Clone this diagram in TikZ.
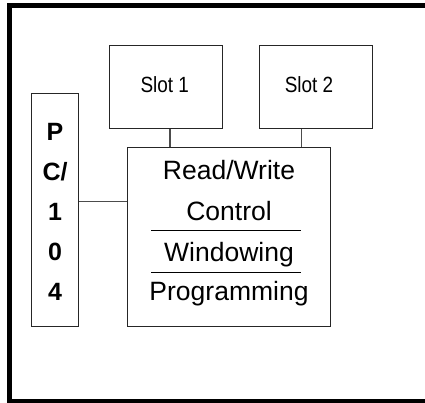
\documentclass[tikz,border=0pt]{standalone}
\usepackage{graphicx}
\usepackage{fontspec}
\setmainfont{Liberation Sans}
\begin{document}
\begin{tikzpicture}[x=1pt,y=-1pt,
  box/.style={draw=black!85, line width=1.3pt, inner sep=0pt, fill=white},
  conn/.style={draw=black!70, line width=1.2pt},
  divline/.style={draw=black, line width=0.9pt},
  maintext/.style={anchor=base, inner sep=0pt, font=\fontsize{26.5}{26.5}\selectfont},
  slottext/.style={anchor=base, inner sep=0pt, font=\fontsize{22}{22}\selectfont},
  pctext/.style={anchor=base, inner sep=0pt, font=\fontsize{25}{25}\selectfont\bfseries}]
\useasboundingbox (0,0) rectangle (425,403);
\fill[white] (0,0) rectangle (425,403);
% outer frame (open on the right)
\draw[line width=5pt, line join=miter] (425,5.5) -- (9.5,5.5) -- (9.5,401) -- (425,401);
% boxes
\node[box, minimum width=112.6pt, minimum height=82.6pt] (slot1) at (166,87) {};
\node[box, minimum width=112.6pt, minimum height=82.6pt] (slot2) at (316,87) {};
\node[box, minimum width=46.6pt, minimum height=232.6pt] (pc) at (55,210) {};
\node[box, minimum width=202.6pt, minimum height=178.6pt] (main) at (229,237) {};
% texts
\node[slottext] (s1t) at (164.7,92.7) {\scalebox{0.86}[1]{Slot 1}};
\node[slottext] (s2t) at (309,92.7) {\scalebox{0.86}[1]{Slot 2}};
\node[maintext] (rw) at (229,180) {Read/Write};
\node[maintext] (ctl) at (229,220) {Control};
\node[maintext] (win) at (229,261) {Windowing};
\node[maintext] (prg) at (229,300.7) {Programming};
\node[pctext] (p1) at (55,140.7) {P};
\node[pctext] (p2) at (55,180.7) {C/};
\node[pctext] (p3) at (55,220.7) {1};
\node[pctext] (p4) at (55,260.7) {0};
\node[pctext] (p5) at (55,300.7) {4};
% dividers
\coordinate (d1a) at (151,230);
\coordinate (d1b) at (301,230);
\coordinate (d2a) at (151,272.3);
\coordinate (d2b) at (301,272.3);
\draw[divline] (d1a) -- (d1b);
\draw[divline] (d2a) -- (d2b);
% connectors
\coordinate (c1) at (170,0);
\coordinate (c2) at (301.7,0);
\coordinate (cpc) at (0,201.7);
\draw[conn] (slot1.south -| c1) -- (main.north -| c1);
\draw[conn] (slot2.south -| c2) -- (main.north -| c2);
\draw[conn] (pc.east |- cpc) -- (main.west |- cpc);
\end{tikzpicture}
\end{document}
